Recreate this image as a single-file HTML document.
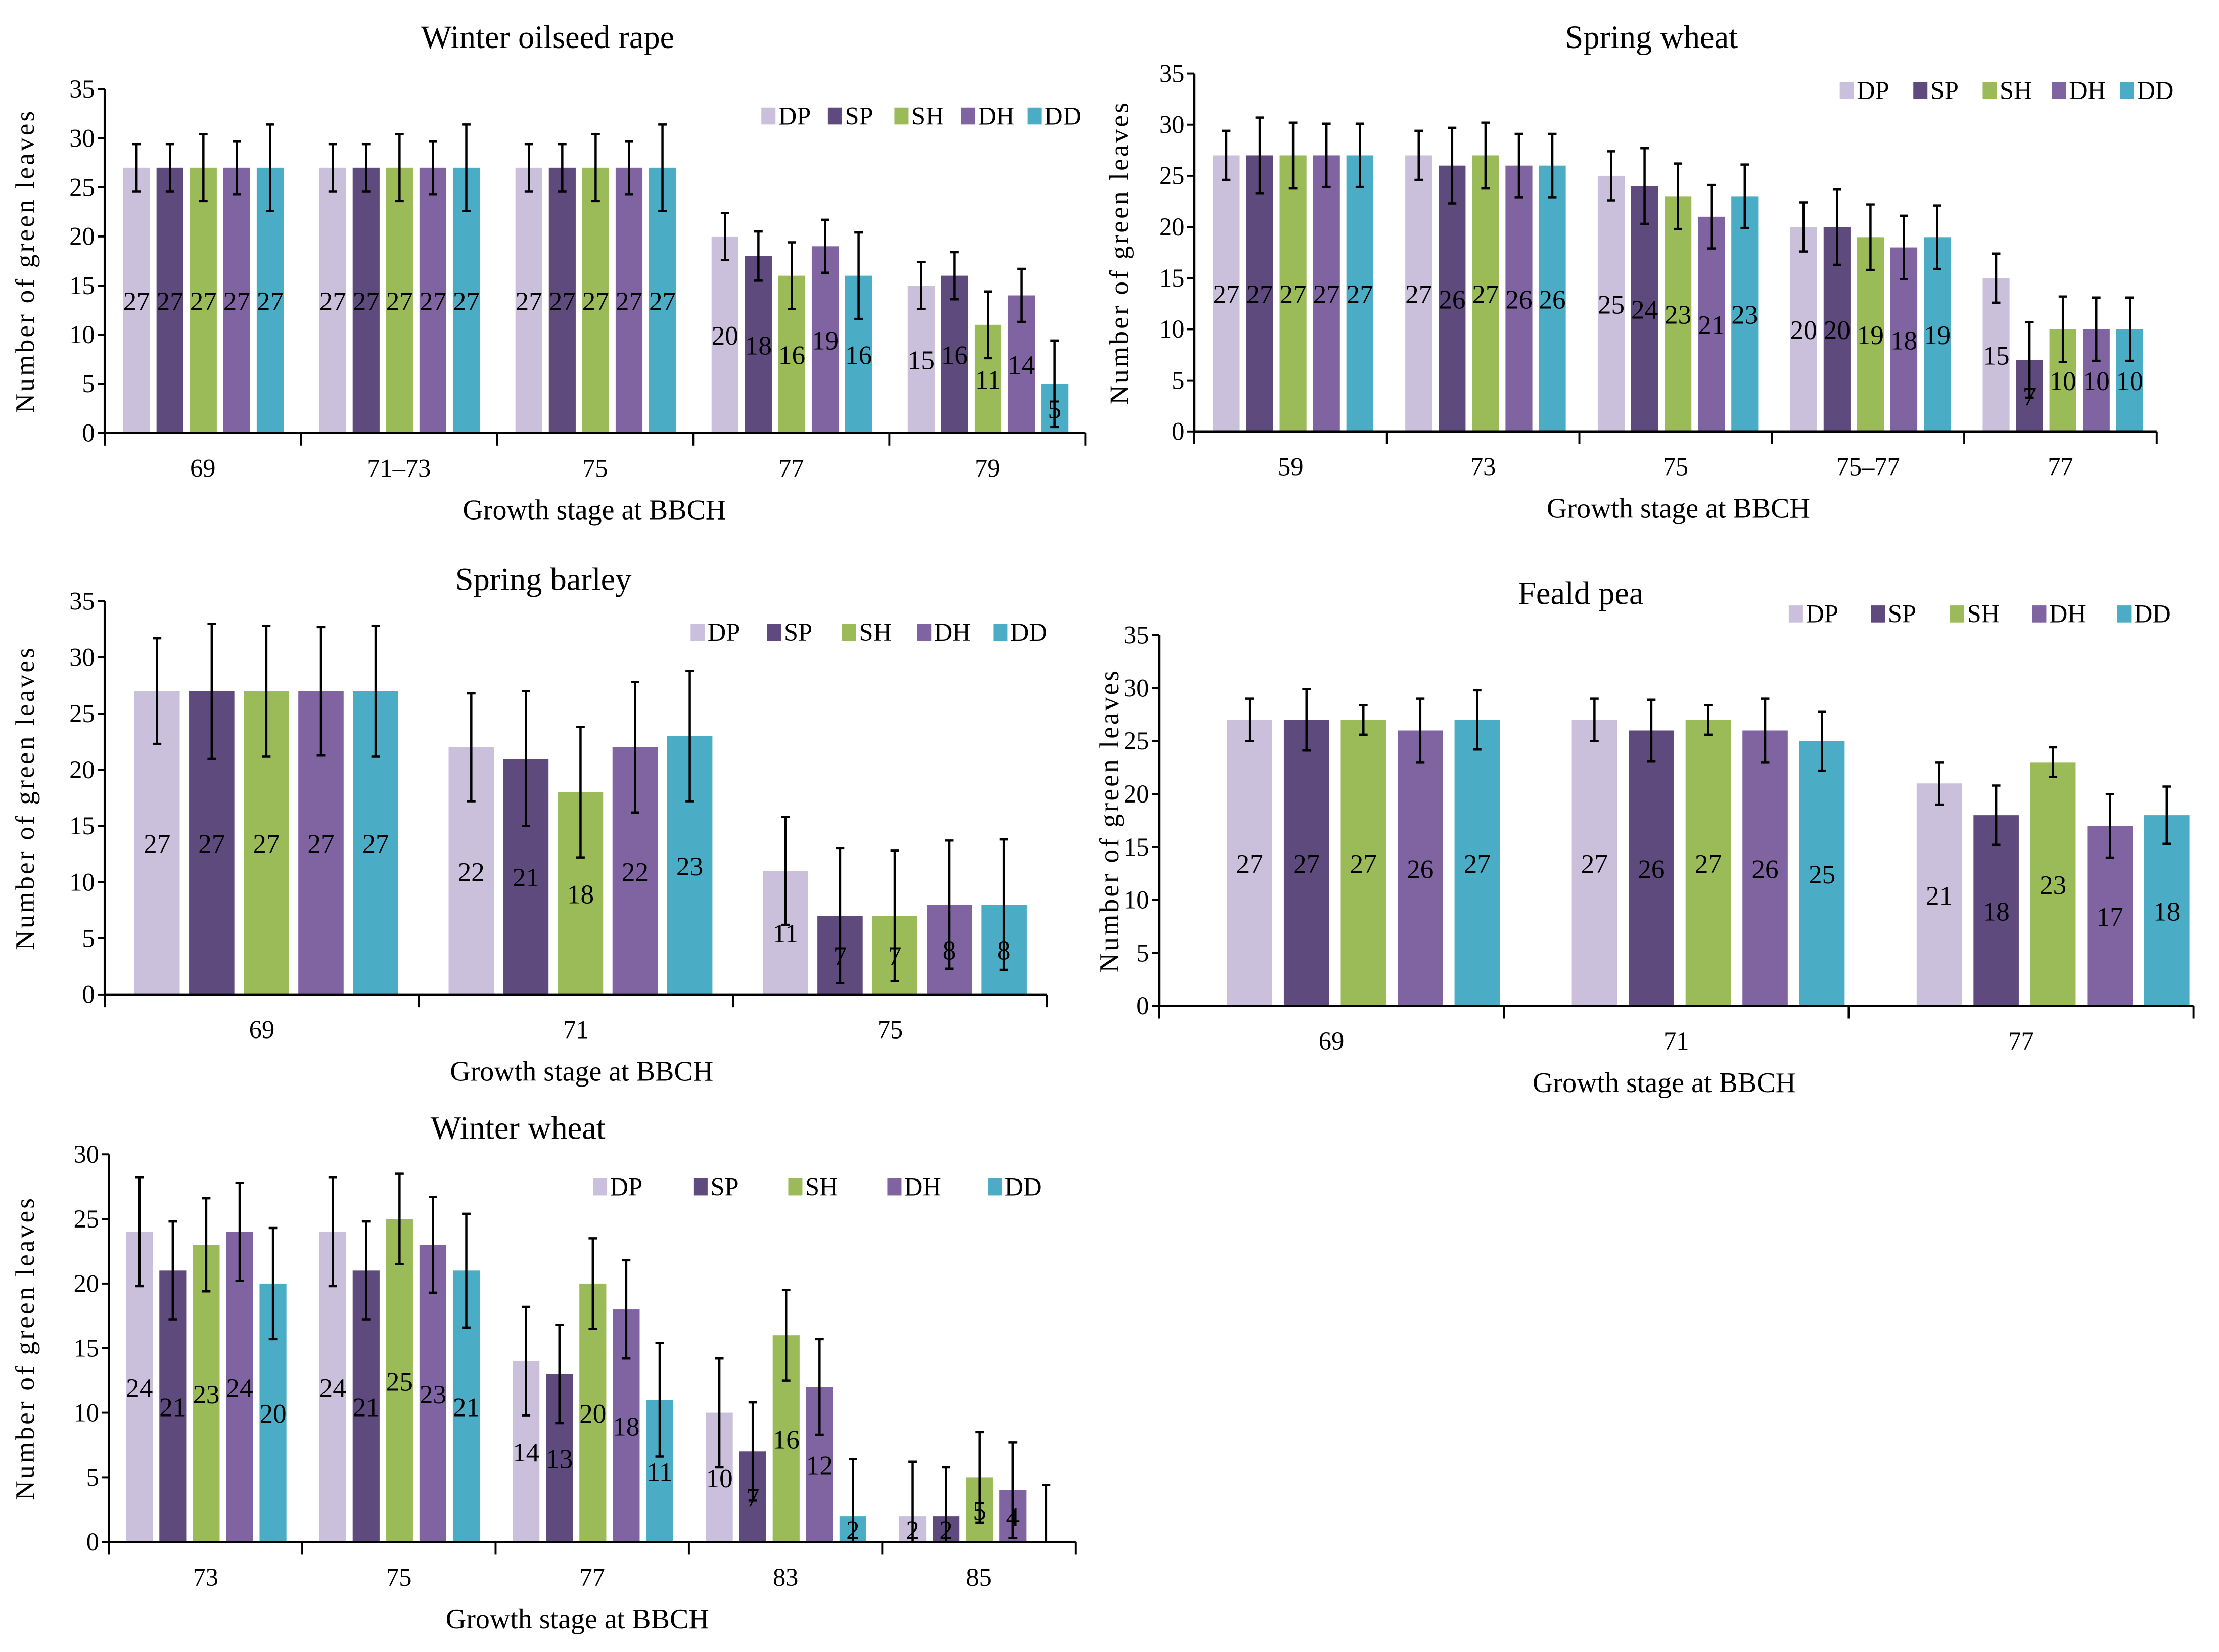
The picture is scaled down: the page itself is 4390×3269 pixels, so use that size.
<!DOCTYPE html>
<html><head><meta charset="utf-8"><style>
html,body{margin:0;padding:0;background:#fff;}
svg, svg text{font-family:"Liberation Serif","DejaVu Serif","Noto Serif CJK SC",serif;}
</style></head><body>
<svg id="fig" width="4390" height="3264" viewBox="0 0 1568 1166" preserveAspectRatio="none" xmlns="http://www.w3.org/2000/svg"></svg>
<script>
const seriesNames = ["DP","SP","SH","DH","DD"];
const seriesColors = ["#cbc0dc","#5e4a7c","#9bbb59","#8064a2","#4bacc6"];

const wosrCategories = ["69","71–73","75","77","79"];
const wosrValues = [[27,27,27,20,15],[27,27,27,18,16],[27,27,27,16,11],[27,27,27,19,14],[27,27,27,16,5]];
const wosrErrors = [[2.4,2.4,2.4,2.4,2.4],[2.4,2.4,2.4,2.5,2.4],[3.4,3.4,3.4,3.4,3.4],[2.7,2.7,2.7,2.7,2.7],[4.4,4.4,4.4,4.4,4.4]];
const wosrTicks = [0,5,10,15,20,25,30,35];

const swCategories = ["59","73","75","75–77","77"];
const swValues = [[27,27,25,20,15],[27,26,24,20,7],[27,27,23,19,10],[27,26,21,18,10],[27,26,23,19,10]];
const swErrors = [[2.4,2.4,2.4,2.4,2.4],[3.7,3.7,3.7,3.7,3.7],[3.2,3.2,3.2,3.2,3.2],[3.1,3.1,3.1,3.1,3.1],[3.1,3.1,3.1,3.1,3.1]];
const swTicks = [0,5,10,15,20,25,30,35];

const sbCategories = ["69","71","75"];
const sbValues = [[27,22,11],[27,21,7],[27,18,7],[27,22,8],[27,23,8]];
const sbErrors = [[4.7,4.8,4.8],[6,6,6],[5.8,5.8,5.8],[5.7,5.8,5.7],[5.8,5.8,5.8]];
const sbTicks = [0,5,10,15,20,25,30,35];

const fpCategories = ["69","71","77"];
const fpValues = [[27,27,21],[27,26,18],[27,27,23],[26,26,17],[27,25,18]];
const fpErrors = [[2,2,2],[2.9,2.9,2.8],[1.4,1.4,1.4],[3,3,3],[2.8,2.8,2.7]];
const fpTicks = [0,5,10,15,20,25,30,35];

const wwCategories = ["73","75","77","83","85"];
const wwValues = [[24,24,14,10,2],[21,21,13,7,2],[23,25,20,16,5],[24,23,18,12,4],[20,21,11,2,0]];
const wwErrors = [[4.2,4.2,4.2,4.2,4.2],[3.8,3.8,3.8,3.8,3.8],[3.6,3.5,3.5,3.5,3.5],[3.8,3.7,3.8,3.7,3.7],[4.3,4.4,4.4,4.4,4.4]];
const wwTicks = [0,5,10,15,20,25,30];

const NS="http://www.w3.org/2000/svg";
const svg=document.getElementById('fig');
function mk(tag,attrs,parent){const e=document.createElementNS(NS,tag);for(const k in attrs)e.setAttribute(k,attrs[k]);(parent||svg).appendChild(e);return e;}

function drawChart(c){
  const g=mk('g',{});
  
  
  const ymax=c.ticks[c.ticks.length-1];
  const yS=v=>c.y0-(c.y0-c.yTop)*Math.max(0,v)/ymax;
  const gw=(c.xRight-c.x0)/c.cats.length;
  const bx=(gi,si)=>c.x0+gi*gw+c.off+si*c.step;
  const t=mk('text',{x:c.titleX,y:c.titleY,'font-size':23,'text-anchor':'middle'},g);t.textContent=c.title;
  
  const yl=mk('text',{x:0,y:0,'font-size':19,'text-anchor':'middle','letter-spacing':'1.5',transform:`translate(${c.ylX},${(c.yTop+c.y0)/2}) rotate(-90)`},g);yl.textContent='Number of green leaves';
  
  c.vals.forEach((ser,si)=>{ser.forEach((v,gi)=>{
    const x=bx(gi,si);
    if(v>0){const r=mk('rect',{x:x,y:yS(v),width:c.bw,height:c.y0-yS(v),fill:seriesColors[si]},g);
      }
    const e=c.errs[si][gi];const cx=x+c.bw/2;const hi=yS(v+e),lo=yS(v-e);
    const eb=mk('path',{d:`M${cx},${hi}V${lo}M${cx-3},${hi}H${cx+3}M${cx-3},${lo}H${cx+3}`,stroke:'#000','stroke-width':1.6,fill:'none'},g);
    
    if(v>0){const lt=mk('text',{x:cx,y:yS(v/2)+7,'font-size':19,'text-anchor':'middle'},g);lt.textContent=v;
      }
  });});
  const ax=mk('path',{d:`M${c.x0},${c.yTop}V${c.y0}H${c.xRight}`,stroke:'#000','stroke-width':1.6,fill:'none'},g);
  
  c.ticks.forEach(tv=>{const y=yS(tv);
    mk('line',{x1:c.x0-5,x2:c.x0,y1:y,y2:y,stroke:'#000','stroke-width':1.4},g);
    const tl=mk('text',{x:c.x0-7,y:y+6,'font-size':18,'text-anchor':'end'},g);tl.textContent=tv;
    });
  for(let i=0;i<=c.cats.length;i++){const x=c.x0+i*gw;mk('line',{x1:x,x2:x,y1:c.y0,y2:c.y0+9,stroke:'#000','stroke-width':1.4},g);}
  c.cats.forEach((cat,i)=>{const cl=mk('text',{x:c.x0+(i+0.5)*gw,y:c.y0+31,'font-size':18,'text-anchor':'middle'},g);cl.textContent=cat;
    });
  const xt=mk('text',{x:c.xtX,y:c.y0+61,'font-size':20,'text-anchor':'middle'},g);xt.textContent='Growth stage at BBCH';
  
  seriesNames.forEach((n,i)=>{const lx=c.legX[i];
    const sq=mk('rect',{x:lx,y:c.legY-6,width:10,height:12,fill:seriesColors[i]},g);
    
    const lt=mk('text',{x:lx+12,y:c.legY+6,'font-size':18},g);lt.textContent=n;
    });
}

drawChart({name:'winter-oilseed-rape-chart',title:'Winter oilseed rape',titleX:387,titleY:34,cats:wosrCategories,vals:wosrValues,errs:wosrErrors,ticks:wosrTicks,
  x0:74,xRight:767,yTop:63,y0:306,off:13,bw:19,step:23.6,ylX:24,xtX:420,legY:82,legX:[538,585,632,679,726]});
drawChart({name:'spring-wheat-chart',title:'Spring wheat',titleX:1167,titleY:34,cats:swCategories,vals:swValues,errs:swErrors,ticks:swTicks,
  x0:844,xRight:1524,yTop:52,y0:305,off:13,bw:19,step:23.6,ylX:797,xtX:1186,legY:64,legX:[1300,1352,1401,1450,1498]});
drawChart({name:'spring-barley-chart',title:'Spring barley',titleX:384,titleY:417,cats:sbCategories,vals:sbValues,errs:sbErrors,ticks:sbTicks,
  x0:74,xRight:740,yTop:425,y0:703,off:21,bw:32,step:38.6,ylX:24,xtX:411,legY:447,legX:[488,542,595,648,702]});
drawChart({name:'feald-pea-chart',title:'Feald pea',titleX:1117,titleY:427,cats:fpCategories,vals:fpValues,errs:fpErrors,ticks:fpTicks,
  x0:819,xRight:1550,yTop:449,y0:711,off:48,bw:32,step:40.2,ylX:790,xtX:1176,legY:434,legX:[1264,1322,1378,1436,1496]});
drawChart({name:'winter-wheat-chart',title:'Winter wheat',titleX:366,titleY:805,cats:wwCategories,vals:wwValues,errs:wwErrors,ticks:wwTicks,
  x0:77,xRight:760,yTop:816,y0:1090,off:12,bw:19,step:23.6,ylX:24,xtX:408,legY:839,legX:[419,490,557,627,698]});
</script>
</body></html>
